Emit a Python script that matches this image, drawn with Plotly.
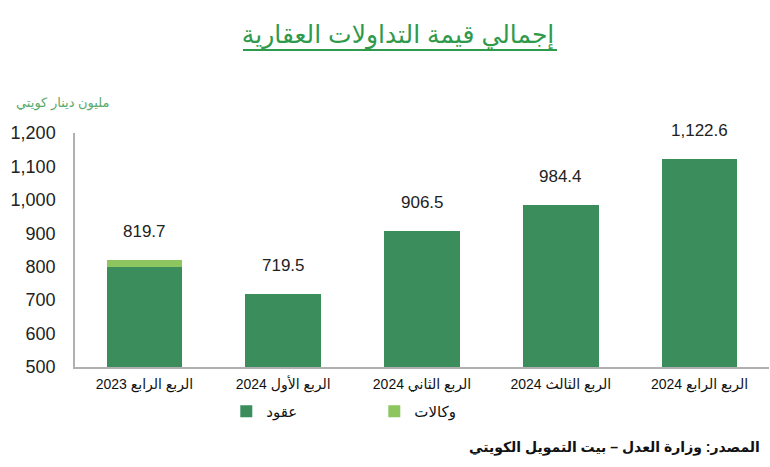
import plotly.graph_objects as go

RLE, PDF = "\u202b", "\u202c"

categories = ["الربع الرابع 2023", "الربع الأول 2024", "الربع الثاني 2024", "الربع الثالث 2024", "الربع الرابع 2024"]
contracts = [800.5, 719.5, 906.5, 984.4, 1122.6]
agencies = [19.2, 0, 0, 0, 0]
totals = [819.7, 719.5, 906.5, 984.4, 1122.6]
y_ticks = [500, 600, 700, 800, 900, 1000, 1100, 1200]

title_text = "إجمالي قيمة التداولات العقارية"
unit_text = "مليون دينار كويتي"
source_text = "المصدر: وزارة العدل – بيت التمويل الكويتي"
series_names = ["عقود", "وكالات"]

DARK = "#3b8d5c"
LIGHT = "#8dc65e"
TITLE_GREEN = "#2f9a4c"
FONT = "Arial, 'Liberation Sans', 'DejaVu Sans', sans-serif"

cats = [RLE + c + PDF for c in categories]

fig = go.Figure()
fig.add_trace(go.Bar(x=cats, y=contracts, name=series_names[0], marker_color=DARK,
                     marker_line_width=0))
fig.add_trace(go.Bar(x=cats, y=agencies, name=series_names[1], marker_color=LIGHT,
                     marker_line_width=0))

annotations = []
for c, t in zip(cats, totals):
    annotations.append(dict(x=c, y=t, xref="x", yref="y", text=f"{t:,.1f}", showarrow=False,
                            yanchor="bottom", yshift=17, font=dict(size=17, color="#222222", family=FONT)))
annotations.append(dict(x=-0.088, y=1.13, xref="paper", yref="paper", text=RLE + unit_text + PDF,
                        showarrow=False, xanchor="left", yanchor="middle",
                        font=dict(size=13, color="#5aaa6c", family=FONT)))
annotations.append(dict(x=0.99, y=-0.345, xref="paper", yref="paper", text="<b>" + RLE + source_text + PDF + "</b>",
                        showarrow=False, xanchor="right", yanchor="middle",
                        font=dict(size=14, color="#111111", family=FONT)))

fig.update_layout(
    width=770, height=467, autosize=False,
    margin=dict(l=75, r=1, t=133, b=100),
    paper_bgcolor="white", plot_bgcolor="white",
    barmode="stack", bargap=0.455,
    font=dict(family=FONT, color="#222222"),
    title=dict(text=title_text, x=0.517, xanchor="center", y=0.927, yanchor="middle",
               font=dict(size=25, color=TITLE_GREEN, family=FONT)),
    showlegend=True,
    legend=dict(orientation="h", x=0.218, xanchor="left", y=-0.19, yanchor="middle",
                traceorder="normal", entrywidth=103, entrywidthmode="pixels",
                font=dict(size=15, color="#111111", family=FONT), itemclick=False),
    annotations=annotations,
    shapes=[dict(type="line", xref="paper", yref="paper", x0=(243 - 75) / 694, x1=(557 - 75) / 694,
                 y0=(367 - 50) / 234, y1=(367 - 50) / 234, line=dict(color=TITLE_GREEN, width=2))],
)
fig.update_xaxes(showline=True, linecolor="#b0b0b0", linewidth=1.5, ticks="",
                 ticklabelstandoff=3,
                 tickfont=dict(size=14, color="#111111", family=FONT), showgrid=False)
fig.update_yaxes(range=[500, 1200], tickvals=y_ticks, tickformat=",d", showgrid=False,
                 showline=True, linecolor="#b0b0b0", linewidth=1.5, ticks="",
                 ticklabelstandoff=14, zeroline=False,
                 tickfont=dict(size=18, color="#222222", family=FONT))

fig.write_html("out.html")
